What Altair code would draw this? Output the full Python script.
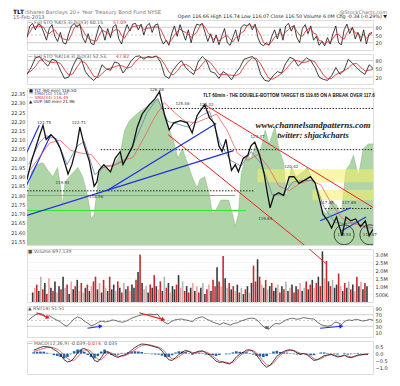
import altair as alt
import pandas as pd

FONT = "DejaVu Sans"
W = 346
H_STO, H_MAIN, H_VOL, H_RSI, H_MACD = 30, 157, 53, 31, 33
LEFT_EXT, RIGHT_EXT = 18, 16

# ---------------- axis ticks ----------------
tick_days = [0, 5, 10, 15, 20, 26, 28, 33, 38, 42, 47, 52, 57, 62, 67, 70, 75, 80, 84, 88, 94]
tick_labels = ["24", "Oct", "8", "15", "22", "Nov", "5", "12", "19", "26", "Dec", "10",
               "17", "24", "2013", "7", "14", "22", "28", "Feb", "11"]
bold_days = [5, 26, 47, 67, 88]
price_ticks = [116.0 + 0.5 * i for i in range(21)]
uup_ticks = [21.55 + 0.05 * i for i in range(17)]
sto_levels = [20, 80]
sto_mid = [50]
rsi_levels = [30, 70]
rsi_mid = [50]
rsi_ticks = [10, 30, 50, 70, 90]
vol_ticks = [0.5, 1.0, 1.5, 2.0, 2.5, 3.0]
macd_ticks = [-1.0, -0.5, 0.0, 0.5]

# ---------------- main panel: TLT price (60 min) ----------------
price_day = [-0.5, 0.8, 3.0, 4.1, 5.0, 6.4, 7.7, 9.1, 10.5, 11.3, 12.4, 13.8, 14.7, 16.0, 17.4,
             18.8, 19.6, 20.2, 21.6, 23.5, 24.9, 26.3, 27.1, 28.5, 29.9, 31.2, 32.6, 34.6, 36.2,
             37.6, 39.0, 40.4, 41.7, 43.7, 45.6, 47.0, 48.4, 49.2, 50.6, 52.0, 53.4, 54.7, 55.6,
             56.7, 57.5, 58.3, 59.4, 60.3, 61.7, 63.0, 63.9, 65.0, 66.4, 67.7, 68.6, 69.4, 70.5,
             71.9, 73.3, 74.9, 76.3, 77.7, 79.6, 81.0, 82.4, 83.8, 84.6, 86.0, 87.1, 88.5, 90.1,
             91.2, 92.6, 94.0, 95.4, 96.8, 97.9, 99.0]
price_val = [119.96, 121.26, 122.95, 123.73, 122.75, 123.08, 122.75, 122.10, 121.0, 120.35,
             121.0, 122.3, 123.6, 122.3, 121.26, 119.5, 119.8, 120.6, 121.0, 120.5, 121.45,
             121.9, 121.0, 121.65, 122.3, 123.6, 124.5, 125.15, 125.55, 126.06, 124.5, 123.4,
             123.9, 124.05, 123.9, 123.2, 124.4, 124.7, 125.15, 124.25, 123.86, 122.3, 121.9,
             122.75, 121.65, 120.6, 121.0, 120.5, 121.45, 121.65, 122.3, 122.56, 121.65, 120.35,
             119.05, 118.0, 118.86, 119.05, 118.86, 120.16, 120.16, 119.7, 119.96, 120.16, 119.7,
             118.4, 117.56, 117.1, 116.6, 117.36, 116.06, 117.36, 117.1, 117.23, 116.7, 117.1,
             116.06, 116.5]

ema_day = [0, 3, 5, 8, 11, 14, 16, 19, 22, 25, 28, 31, 34, 37, 40, 43, 46, 49, 52, 55, 58, 61,
           64, 67, 70, 73, 76, 79, 82, 85, 88, 91, 94, 97, 99]
ema_val = [121.0, 122.5, 123.0, 122.8, 121.0, 122.3, 122.6, 120.3, 120.9, 121.0, 121.3, 122.9,
           124.6, 125.6, 124.0, 123.8, 123.6, 124.3, 124.7, 122.5, 121.3, 120.9, 121.9, 121.0,
           118.9, 118.9, 119.8, 119.9, 119.9, 118.0, 117.0, 116.9, 117.0, 116.6, 116.6]

sma_day = [0, 3, 6, 9, 12, 15, 18, 21, 24, 27, 30, 33, 36, 39, 42, 45, 48, 51, 54, 57, 60, 63,
           66, 69, 72, 75, 78, 81, 84, 87, 90, 93, 96, 99]
sma_val = [120.5, 121.5, 122.5, 122.7, 122.0, 121.8, 121.7, 120.8, 120.9, 121.3, 121.5, 122.8,
           124.2, 125.3, 124.6, 124.0, 123.9, 124.2, 124.5, 123.4, 121.8, 121.3, 121.7, 120.8,
           119.5, 119.2, 119.7, 119.9, 119.6, 118.3, 117.3, 116.9, 116.8, 116.6]

# UUP (left axis, green area)
uup_day = [-0.5, 0.8, 2.2, 4.1, 5.5, 6.9, 8.3, 9.1, 9.7, 10.5, 12.4, 14.1, 15.5, 16.9, 18.0,
           18.8, 19.6, 20.7, 22.1, 23.5, 24.9, 26.3, 27.6, 29.0, 30.4, 32.1, 34.0, 35.4, 37.3,
           39.0, 40.4, 41.5, 42.9, 44.2, 45.6, 47.0, 48.4, 49.2, 50.6, 52.0, 52.8, 53.9, 55.3,
           57.5, 58.6, 59.4, 60.3, 61.1, 62.5, 63.9, 65.2, 66.6, 68.0, 69.1, 70.8, 71.9, 73.3,
           74.1, 75.5, 76.9, 78.8, 80.2, 81.6, 82.9, 84.3, 85.7, 87.1, 88.5, 89.9, 91.2, 92.3,
           93.4, 94.8, 96.2, 97.6, 99.0]
uup_val = [21.773, 21.925, 21.965, 21.975, 21.935, 21.90, 21.95, 21.849, 21.747, 21.874, 21.915,
           21.95, 21.90, 21.798, 21.672, 21.697, 21.823, 21.95, 21.95, 21.925, 21.975, 22.026,
           22.153, 22.203, 22.228, 22.254, 22.279, 22.304, 22.32, 22.228, 22.153, 22.102, 22.0,
           22.051, 21.975, 21.90, 21.839, 21.884, 21.90, 21.798, 21.697, 21.722, 21.773, 21.773,
           21.697, 21.631, 21.697, 21.915, 22.016, 22.0, 22.066, 22.036, 22.153, 22.077, 22.168,
           22.051, 21.975, 21.783, 21.95, 21.90, 21.925, 21.95, 21.874, 21.823, 21.722, 21.697,
           21.773, 21.747, 21.697, 21.935, 21.965, 22.016, 21.90, 22.051, 22.077, 22.077]

# yellow target zones
band_start = [65.8, 81.6]
band_end = [99.0, 99.0]
band_lo = [119.77, 118.53]
band_hi = [120.68, 119.25]

# horizontal levels
dot_price = [124.9, 122.04, 119.18, 117.95]
dot_start = [38.2, 20.7, -0.5, 85.2]
dot_end = [99.0, 99.0, 65.0, 99.0]
green_price = [118.86, 117.82]
green_start = [-0.5, -0.5]
green_end = [59.4, 62.5]

# trend lines (channel / support)
seg_d1 = [50.6, 40.1, -6.08, -5.53, -5.53, 22.4, 83.8, 89.9]
seg_p1 = [125.16, 123.08, 118.99, 117.1, 117.1, 119.18, 117.1, 116.39]
seg_d2 = [99.0, 86.5, 3.04, 6.36, 58.9, 53.9, 92.6, 97.0]
seg_p2 = [118.03, 113.99, 123.73, 123.08, 121.97, 123.86, 118.01, 117.36]
seg_kind = ["red", "red", "blue", "blue", "blue", "blue", "blue", "blue"]

# circled double bottom
circle_day = [90.7, 98.1]
circle_price = [116.13, 116.13]

# price labels
ann_text = ["126.38", "125.46", "125.32", "122.71", "121.75", "119.91", "118.56", "123.47",
            "120.42", "117.85", "117.89", "119.64", "115.54", "115.87"]
ann_day = [36.8, 44.2, 51.1, 14.4, 4.4, 9.7, 19.4, 65.8, 75.5, 85.7, 92.1, 68.0, 90.7, 98.1]
ann_price = [126.19, 125.22, 125.16, 123.86, 123.92, 119.7, 118.73, 122.95, 120.81, 118.34,
             118.34, 117.23, 116.13, 116.13]

# ---------------- stochastics ----------------
sto1_k = [40, 85, 95, 70, 92, 88, 60, 30, 75, 90, 45, 25, 60, 20, 15, 55, 85, 95, 80, 92,
          40, 20, 55, 18, 12, 50, 88, 70, 30, 75, 40, 82, 90, 35, 15, 60, 90, 65, 92, 95,
          70, 92, 50, 85, 95, 60, 88, 93, 40, 15, 30, 10, 55, 85, 45, 90, 60, 30, 70, 20,
          65, 92, 88, 95, 60, 25, 55, 20, 50, 12, 45, 75, 20, 10, 40, 70, 25, 80, 90, 85,
          95, 70, 92, 40, 15, 8, 20, 10, 45, 70, 35, 75, 30, 85, 95, 65, 88, 40, 20, 75,
          90, 55, 85, 30, 45, 10, 25, 8, 40, 15, 55, 85, 20, 12, 70, 92, 55, 80, 35, 60,
          25, 70, 15, 55, 60]
sto1_d = [45, 60, 80, 83, 85, 83, 80, 59, 55, 65, 70, 53, 43, 35, 32, 30, 52, 78, 87, 89,
          71, 51, 38, 31, 28, 27, 50, 69, 63, 58, 48, 66, 71, 69, 47, 37, 55, 72, 82, 84,
          86, 86, 71, 76, 77, 80, 81, 80, 74, 49, 28, 18, 32, 50, 62, 73, 65, 60, 53, 40,
          52, 59, 82, 92, 81, 60, 47, 33, 42, 27, 36, 44, 47, 35, 23, 40, 45, 58, 65, 85,
          90, 83, 86, 67, 49, 21, 14, 13, 25, 42, 50, 60, 47, 63, 70, 82, 83, 64, 49, 45,
          62, 73, 77, 57, 53, 28, 27, 14, 24, 21, 37, 52, 53, 39, 34, 58, 72, 76, 57, 58,
          40, 52, 37, 47, 57]
sto2_k = [30, 55, 90, 95, 75, 60, 85, 80, 45, 15, 20, 60, 90, 85, 40, 20, 8, 25, 65, 50,
          45, 75, 70, 35, 55, 80, 95, 97, 85, 95, 92, 97, 75, 25, 15, 45, 65, 80, 55, 40,
          30, 75, 95, 80, 40, 35, 15, 40, 30, 10, 35, 55, 85, 90, 95, 80, 30, 8, 5, 25,
          40, 35, 70, 92, 85, 60, 75, 90, 80, 55, 20, 12, 8, 25, 55, 30, 45, 85, 70, 55,
          40, 30, 65, 50]
sto2_d = [35, 42, 58, 80, 87, 77, 73, 75, 70, 47, 27, 32, 57, 78, 72, 48, 23, 18, 33, 47,
          53, 57, 63, 60, 53, 57, 77, 91, 92, 92, 91, 95, 88, 66, 38, 28, 42, 63, 67, 58,
          42, 48, 67, 83, 72, 52, 30, 30, 28, 27, 25, 33, 58, 77, 90, 88, 68, 39, 14, 13,
          23, 33, 48, 66, 82, 79, 73, 75, 82, 75, 52, 29, 13, 15, 29, 37, 43, 53, 67, 70,
          55, 42, 45, 48]

# ---------------- volume (millions) ----------------
volume = [0.6, 0.9, 1.1, 0.7, 1.6, 0.8, 1.2, 0.5, 1.5, 0.9,
          0.7, 1.3, 0.6, 1.0, 0.8, 1.6, 0.9, 1.1, 0.5, 1.3,
          0.8, 1.0, 1.4, 0.7, 1.2, 0.6, 0.9, 1.1, 0.7, 1.0,
          1.3, 1.6, 0.8, 1.2, 0.6, 1.4, 0.9, 0.7, 1.6, 0.8,
          1.1, 0.7, 1.3, 0.9, 0.6, 1.2, 0.8, 1.0, 0.7, 1.1,
          0.9, 1.4, 1.9, 3.0, 1.2, 0.8, 1.0, 0.6, 1.1, 0.9,
          1.7, 1.0, 0.8, 1.3, 0.7, 1.6, 0.9, 1.2, 0.6, 1.0,
          0.8, 1.1, 1.7, 0.9, 1.3, 0.7, 1.0, 0.6, 0.9, 1.2,
          0.7, 1.0, 0.6, 0.9, 1.2, 0.5, 0.8, 1.1, 0.7, 1.4,
          1.0, 2.2, 1.3, 1.0, 2.9, 1.5, 0.9, 1.2, 0.8, 1.0,
          0.7, 1.1, 0.6, 0.9, 0.5, 0.8, 1.0, 0.6, 1.2, 2.3,
          1.3, 2.7, 1.6, 1.1, 0.9, 1.4, 0.8, 1.0, 1.2, 0.7,
          0.9, 1.1, 0.6, 1.0, 0.8, 1.3, 0.7, 0.9, 1.1, 0.6,
          1.0, 0.8, 1.2, 0.7, 0.9, 1.3, 0.8, 1.1, 1.4, 0.9,
          1.2, 1.6, 1.0, 3.2, 1.5, 2.6, 1.3, 1.0, 1.4, 0.9,
          1.1, 1.8, 1.0, 0.7, 1.2, 0.9, 1.3, 0.8, 1.1, 0.7,
          1.6, 1.0, 1.3, 0.8, 1.2, 1.0]
vol_kind = ("kprkgrkrpk" "rkpkrkgrkp" "krkprgkrkp" "rrkpkrgkrk" "kprkrgkrpk" "krkrkpgkrk"
            "rkprkgrkpk" "krkpgrkrkp" "kprkgkrpkr" "rkrprkgrkr" "pkrgkrkpkr" "rkrpkrgkrk"
            "kprkrgkpkr" "krpkgrkrkp" "rkrkprkrgk" "krpkrkgrkp" "rkpkrk")
vol_seg_d = [81.6, 86.5]
vol_seg_v = [3.35, 2.44]

# ---------------- RSI(14) ----------------
rsi = [52, 62, 70, 74, 72, 62, 66, 58, 52, 46, 36, 30, 42, 55, 62, 58, 48, 40, 32, 36,
       44, 48, 45, 47, 52, 50, 46, 44, 48, 54, 60, 64, 68, 70, 71, 72, 70, 72, 56, 44,
       38, 46, 52, 54, 55, 52, 50, 45, 56, 60, 63, 56, 50, 44, 40, 36, 42, 38, 34, 40,
       42, 48, 52, 56, 58, 57, 48, 34, 24, 20, 32, 40, 38, 44, 52, 56, 58, 54, 56, 60,
       58, 56, 55, 44, 36, 32, 30, 33, 44, 42, 36, 48, 52, 50, 54, 52, 48, 50, 54, 51]
arrow_d1 = [2.2, 16.9, 31.8, 83.8]
arrow_v1 = [77, 23, 77, 23]
arrow_d2 = [5.5, 20.7, 38.7, 89.9]
arrow_v2 = [60, 30, 53, 30]
arrow_kind = ["red", "blue", "red", "blue"]

# ---------------- MACD(12,26,9) ----------------
macd = [0.25, 0.35, 0.45, 0.52, 0.50, 0.45, 0.30, 0.15, -0.10, -0.45, -0.60, -0.55, -0.30, 0.05,
        0.30, 0.38, 0.20, -0.10, -0.50, -0.60, -0.30, 0.10, 0.15, -0.05, -0.20, -0.28, -0.15,
        -0.10, 0.05, 0.25, 0.45, 0.60, 0.70, 0.68, 0.62, 0.55, 0.48, 0.40, 0.20, -0.15, -0.45,
        -0.50, -0.30, -0.05, 0.10, 0.25, 0.15, 0.00, 0.10, 0.18, 0.20, 0.05, -0.10, -0.30, -0.55,
        -0.65, -0.60, -0.70, -0.75, -0.55, -0.25, -0.05, 0.10, 0.25, 0.28, 0.15, -0.10, -0.45,
        -0.80, -1.00, -0.85, -0.55, -0.20, 0.00, 0.15, 0.25, 0.28, 0.20, 0.05, -0.05, 0.00, -0.10,
        -0.30, -0.50, -0.45, -0.30, -0.15, -0.10, -0.05, -0.15, -0.25, -0.20, -0.10, -0.25, -0.30,
        -0.20, -0.10, -0.08, -0.05, -0.04]
signal = [0.15, 0.22, 0.30, 0.38, 0.44, 0.47, 0.42, 0.32, 0.15, -0.10, -0.35, -0.50, -0.48, -0.25,
          0.02, 0.25, 0.30, 0.15, -0.15, -0.42, -0.45, -0.20, 0.05, 0.05, -0.08, -0.20, -0.20,
          -0.15, -0.05, 0.10, 0.28, 0.45, 0.58, 0.64, 0.65, 0.60, 0.54, 0.47, 0.35, 0.10, -0.20,
          -0.38, -0.38, -0.22, -0.05, 0.12, 0.18, 0.08, 0.06, 0.12, 0.16, 0.12, 0.00, -0.18, -0.38,
          -0.55, -0.60, -0.64, -0.70, -0.64, -0.42, -0.18, 0.00, 0.15, 0.24, 0.22, 0.05, -0.25,
          -0.55, -0.82, -0.88, -0.70, -0.40, -0.12, 0.06, 0.18, 0.25, 0.24, 0.12, 0.02, 0.00, -0.05,
          -0.18, -0.38, -0.44, -0.38, -0.24, -0.14, -0.08, -0.10, -0.18, -0.20, -0.15, -0.18, -0.25,
          -0.23, -0.15, -0.10, -0.07, -0.07]
hist = [0.10, 0.13, 0.15, 0.14, 0.06, -0.02, -0.12, -0.17, -0.25, -0.35, -0.25, -0.05, 0.18, 0.30,
        0.28, 0.13, -0.10, -0.25, -0.35, -0.18, 0.15, 0.30, 0.10, -0.10, -0.12, -0.08, 0.05, 0.05,
        0.10, 0.15, 0.17, 0.15, 0.12, 0.04, -0.03, -0.05, -0.06, -0.07, -0.15, -0.25, -0.25, -0.12,
        0.08, 0.17, 0.15, 0.13, -0.03, -0.08, 0.04, 0.06, 0.04, -0.07, -0.10, -0.12, -0.17, -0.10,
        0.00, -0.06, -0.05, 0.09, 0.17, 0.13, 0.10, 0.10, 0.04, -0.07, -0.15, -0.20, -0.25, -0.18,
        0.03, 0.15, 0.20, 0.12, 0.09, 0.07, 0.03, -0.04, -0.07, -0.07, 0.00, -0.05, -0.12, -0.12,
        -0.01, 0.08, 0.09, 0.04, 0.03, -0.05, -0.07, 0.00, 0.05, -0.07, -0.05, 0.03, 0.05, 0.02,
        0.02, 0.03]

# ======================================================================
LABEL_EXPR = ("[" + ",".join("'%s'" % s for s in tick_labels) + "][indexof(["
              + ",".join(str(d) for d in tick_days) + "], datum.value)]")
BOLD_TEST = "indexof([" + ",".join(str(d) for d in bold_days) + "], datum.value) >= 0"
XS = alt.Scale(domain=[-0.5, 99], nice=False, zero=False)
PS = alt.Scale(domain=[115.42, 126.32], nice=False, zero=False)
one = pd.DataFrame({"z": [0]})


def xax(field, show=None):
    if show is None:
        return alt.X(f"{field}:Q", scale=XS, axis=None)
    return alt.X(f"{field}:Q", scale=XS, axis=alt.Axis(
        values=tick_days, labelExpr=LABEL_EXPR, labels=show, grid=True, gridColor="#dedede",
        gridWidth=0.6, ticks=False, domain=False, title=None, labelFontSize=5, labelFont=FONT,
        labelColor="#333", labelPadding=1.5,
        labelFontWeight={"condition": {"test": BOLD_TEST, "value": "bold"}, "value": "normal"}))


def yax(values, fmt=None, orient="right", grid=False, expr=None):
    ext = RIGHT_EXT if orient == "right" else LEFT_EXT
    kw = dict(orient=orient, values=values, title=None, ticks=False, domain=False, grid=grid,
              gridColor="#ececec", gridWidth=0.6, labelFontSize=5, labelFont=FONT,
              labelColor="#333", labelPadding=2, minExtent=ext, maxExtent=ext)
    if fmt:
        kw["format"] = fmt
    if expr:
        kw["labelExpr"] = expr
    return alt.Axis(**kw)


# an unlabeled left axis that gives every panel the same left extent as the UUP axis
LEFT_PAD = alt.Axis(orient="left", labels=False, ticks=False, domain=False, grid=False,
                    title=None, minExtent=LEFT_EXT, maxExtent=LEFT_EXT)


def txt(s, x, y, size=5.0, color="#333", weight="normal", align="left", font=FONT, style="normal"):
    return alt.Chart(one).mark_text(text=s, fontSize=size, color=color, fontWeight=weight,
                                    align=align, baseline="middle", font=font,
                                    fontStyle=style).encode(x=alt.value(x), y=alt.value(y))


def series(vals, step):
    return pd.DataFrame({"d": [-0.5 + i * step for i in range(len(vals))], "v": vals})


# ---------------- stochastic panels ----------------
def sto_panel(k, d, step, dom, leg_a, leg_b, leg_b_x, extra=None):
    ys = alt.Scale(domain=dom, nice=False, zero=False)
    lv = alt.Chart(pd.DataFrame({"v": sto_levels})).mark_rule(color="#aaaaaa", strokeWidth=0.6).encode(
        y=alt.Y("v:Q", scale=ys, axis=yax([20, 50, 80])))
    mid = alt.Chart(pd.DataFrame({"v": sto_mid})).mark_rule(color="#aaaaaa", strokeWidth=0.6,
                                                            strokeDash=[2, 2]).encode(
        y=alt.Y("v:Q", scale=ys, axis=None))
    kl = alt.Chart(series(k, step)).mark_line(color="#111111", strokeWidth=0.8, clip=True).encode(
        x=xax("d", False), y=alt.Y("v:Q", scale=ys, axis=LEFT_PAD))
    dl = alt.Chart(series(d, step)).mark_line(color="#d42020", strokeWidth=0.8, clip=True).encode(
        x=xax("d"), y=alt.Y("v:Q", scale=ys, axis=None))
    layers = [lv, mid, kl, dl, txt(leg_a, 1, 2.5, 4.6, "#555"), txt(leg_b, leg_b_x, 2.5, 4.6, "#e03030")]
    if extra:
        layers += extra
    return alt.layer(*layers).resolve_scale(y="independent").properties(width=W, height=H_STO)


header = [
    txt("TLT", -14, -8.5, 6, "#111", "bold"),
    txt("iShares Barclays 20+ Year Treasury Bond Fund NYSE", -2, -8.5, 5.2, "#777"),
    txt("15-Feb-2013", -14, -3, 5, "#666"),
    txt("@StockCharts.com", 360, -8.5, 5, "#777", align="right"),
    txt("Open 116.66  High 116.74  Low 116.07  Close 116.50  Volume 6.0M  Chg -0.34 (-0.29%) \u25bc",
        360, -3, 4.8, "#222", align="right"),
]
sto1 = sto_panel(sto1_k, sto1_d, 0.8, [-8, 108], "\u2014 Full STO %K(5,3) %D(3) 60.15,", "57.09", 86,
                 extra=header)
sto2 = sto_panel(sto2_k, sto2_d, 1.2, [-5, 104], "\u2014 Full STO %K(14,3) %D(3) 52.53,", "47.82", 89)

# ---------------- main panel ----------------
uup_layer = alt.Chart(pd.DataFrame({"d": uup_day, "v": uup_val})).mark_area(
    color="#a6cf9e", opacity=0.9, clip=True, line={"color": "#86b37e", "strokeWidth": 0.5}).encode(
    x=xax("d", True),
    y=alt.Y("v:Q", scale=alt.Scale(domain=[21.53, 22.38], nice=False, zero=False),
            axis=yax(uup_ticks, ".2f", orient="left")))

bands = alt.Chart(pd.DataFrame({"d1": band_start, "d2": band_end, "p1": band_lo, "p2": band_hi})).mark_rect(
    color="#f5f06a", opacity=0.55, clip=True).encode(
    x=xax("d1"), x2="d2", y=alt.Y("p1:Q", scale=PS, axis=yax(price_ticks, ".1f", grid=True)), y2="p2")

dots = alt.Chart(pd.DataFrame({"d1": dot_start, "d2": dot_end, "p": dot_price})).mark_rule(
    color="#111", strokeWidth=0.9, strokeDash=[1.5, 1.5], clip=True).encode(
    x=xax("d1"), x2="d2", y=alt.Y("p:Q", scale=PS, axis=None))
greens = alt.Chart(pd.DataFrame({"d1": green_start, "d2": green_end, "p": green_price})).mark_rule(
    color="#2ee82e", strokeWidth=1.1, clip=True).encode(
    x=xax("d1"), x2="d2", y=alt.Y("p:Q", scale=PS, axis=None))

seg_df = pd.DataFrame({"d1": seg_d1, "p1": seg_p1, "d2": seg_d2, "p2": seg_p2, "k": seg_kind})


def seg_layer(kind, color, w):
    return alt.Chart(seg_df).transform_filter(f"datum.k == '{kind}'").mark_rule(
        color=color, strokeWidth=w, clip=True).encode(
        x=xax("d1"), x2="d2", y=alt.Y("p1:Q", scale=PS, axis=None), y2="p2")


sma_l = alt.Chart(pd.DataFrame({"d": sma_day, "v": sma_val})).mark_line(
    color="#f06060", strokeWidth=0.8, clip=True).encode(x=xax("d"), y=alt.Y("v:Q", scale=PS, axis=None))
ema_l = alt.Chart(pd.DataFrame({"d": ema_day, "v": ema_val})).mark_line(
    color="#6a7fb8", strokeWidth=0.8, clip=True).encode(x=xax("d"), y=alt.Y("v:Q", scale=PS, axis=None))
price_l = alt.Chart(pd.DataFrame({"d": price_day, "v": price_val})).mark_line(
    color="#111111", strokeWidth=1.3, clip=True).encode(x=xax("d"), y=alt.Y("v:Q", scale=PS, axis=None))

circles = alt.Chart(pd.DataFrame({"d": circle_day, "v": circle_price})).mark_point(
    shape="circle", filled=False, size=400, color="#111", strokeWidth=1, clip=True).encode(
    x=xax("d"), y=alt.Y("v:Q", scale=PS, axis=None))
ann = alt.Chart(pd.DataFrame({"d": ann_day, "v": ann_price, "t": ann_text})).mark_text(
    fontSize=4, font=FONT, color="#333").encode(
    x=xax("d"), y=alt.Y("v:Q", scale=PS, axis=None), text="t:N")

main_text = [
    txt("TLT 60min - THE DOUBLE-BOTTOM TARGET IS 119.65 ON A BREAK OVER 117.6", 176, 7.5, 4.5,
        "#111", "bold", font="Liberation Sans"),
    txt("www.channelsandpatterns.com", 286, 36.5, 9, "#222", "bold", "center", "Liberation Serif", "italic"),
    txt("twitter: shjackcharts", 286, 46.5, 8.5, "#222", "bold", "center", "Liberation Serif", "italic"),
    txt("\u25a0 TLT (60 min) 116.50", 2, 2.5, 4.2, "#222"),
    txt("\u2014 EMA(10) 116.37", 2, 6.3, 4.2, "#3b4fa0"),
    txt("\u2014 SMA(34) 116.49", 2, 10.1, 4.2, "#e03030"),
    txt("\u25b2 UUP (60 min) 21.96", 2, 13.9, 4.2, "#222"),
]

price_group = alt.layer(bands, dots, greens, seg_layer("red", "#ee2222", 1.0),
                        seg_layer("blue", "#1b2fe0", 1.2), sma_l, ema_l, price_l, circles, ann,
                        *main_text)
main = alt.layer(uup_layer, price_group).resolve_scale(y="independent").properties(width=W, height=H_MAIN)

# ---------------- volume ----------------
VS = alt.Scale(domain=[0, 3.35], nice=False)
vol_df = pd.DataFrame([{"d": -0.3 + 0.6 * i, "v": v, "k": c}
                       for i, (v, c) in enumerate(zip(volume, vol_kind))])
vol_colors = {"k": "#3a3a3a", "r": "#c62a2f", "p": "#eaa4a4", "g": "#b4b4b4"}
vol_layers = []
for i, (code, col) in enumerate(vol_colors.items()):
    vol_layers.append(alt.Chart(vol_df).transform_filter(f"datum.k == '{code}'").mark_bar(
        color=col, size=1.6, clip=True).encode(
        x=xax("d", False) if i == 0 else xax("d"),
        y=alt.Y("v:Q", scale=VS, axis=yax(vol_ticks, grid=True,
                                          expr="datum.value < 0.9 ? '500K' : format(datum.value, '.1f') + 'M'")
                if i == 0 else None)))
vol_seg = alt.Chart(pd.DataFrame({"d": vol_seg_d, "v": vol_seg_v})).mark_line(
    color="#ee2222", strokeWidth=1.0, clip=True).encode(x=xax("d"), y=alt.Y("v:Q", scale=VS, axis=LEFT_PAD))
vol = alt.layer(*vol_layers, vol_seg, txt("\u25a0 Volume 697,139", 1, 3, 4.6, "#555")).resolve_scale(
    y="independent").properties(width=W, height=H_VOL)

# ---------------- RSI ----------------
RS = alt.Scale(domain=[-7, 100], nice=False, zero=False)
rsi_df = pd.DataFrame({"d": list(range(len(rsi))), "v": rsi})
rsi_lv = alt.Chart(pd.DataFrame({"v": rsi_levels})).mark_rule(color="#aaaaaa", strokeWidth=0.6).encode(
    y=alt.Y("v:Q", scale=RS, axis=yax(rsi_ticks)))
rsi_mid_l = alt.Chart(pd.DataFrame({"v": rsi_mid})).mark_rule(color="#aaaaaa", strokeWidth=0.6,
                                                               strokeDash=[2, 2]).encode(
    y=alt.Y("v:Q", scale=RS, axis=None))
rsi_fill = alt.Chart(rsi_df).transform_filter("datum.v < 30").mark_area(color="#666", clip=True).encode(
    x=xax("d"), y=alt.Y("v:Q", scale=RS, axis=None), y2=alt.Y2(datum=30))
rsi_line = alt.Chart(rsi_df).mark_line(color="#333", strokeWidth=0.7, clip=True).encode(
    x=xax("d", False), y=alt.Y("v:Q", scale=RS, axis=LEFT_PAD))
arr_df = pd.DataFrame({"d1": arrow_d1, "v1": arrow_v1, "d2": arrow_d2, "v2": arrow_v2, "k": arrow_kind})


def arrow(kind, color, ang):
    body = alt.Chart(arr_df).transform_filter(f"datum.k == '{kind}'").mark_rule(
        color=color, strokeWidth=1.1).encode(x=xax("d1"), x2="d2",
                                             y=alt.Y("v1:Q", scale=RS, axis=None), y2="v2")
    head = alt.Chart(arr_df).transform_filter(f"datum.k == '{kind}'").mark_point(
        shape="triangle-right", filled=True, size=22, color=color, angle=ang, opacity=1).encode(
        x=xax("d2"), y=alt.Y("v2:Q", scale=RS, axis=None))
    return [body, head]


rsi_p = alt.layer(rsi_lv, rsi_mid_l, rsi_fill, rsi_line, *arrow("red", "#e82020", 20),
                  *arrow("blue", "#1b2fe0", 354),
                  txt("\u25b2 RSI(14) 51.51", 1, 3, 4.6, "#555")).resolve_scale(
    y="independent").properties(width=W, height=H_RSI)

# ---------------- MACD ----------------
MS = alt.Scale(domain=[-1.49, 0.92], nice=False, zero=False)
mdf = pd.DataFrame({"d": list(range(len(macd))), "m": macd, "s": signal, "h": hist})
m_hist = alt.Chart(mdf).mark_bar(color="#1f5ea8", size=2.6, clip=True).encode(
    x=xax("d", True), y=alt.Y("h:Q", scale=MS, axis=yax(macd_ticks, ".1f")), y2=alt.Y2(datum=0))
m_sig = alt.Chart(mdf).mark_line(color="#e04040", strokeWidth=0.8, clip=True).encode(
    x=xax("d"), y=alt.Y("s:Q", scale=MS, axis=None))
m_line = alt.Chart(mdf).mark_line(color="#111", strokeWidth=0.8, clip=True).encode(
    x=xax("d"), y=alt.Y("m:Q", scale=MS, axis=LEFT_PAD))
macd_p = alt.layer(m_hist, m_sig, m_line,
                   txt("\u2014 MACD(12,26,9) -0.039,", 1, 3, 4.6, "#555"),
                   txt("-0.074,", 59, 3, 4.6, "#e03030"),
                   txt("0.035", 77, 3, 4.6, "#1f5ea8")).resolve_scale(
    y="independent").properties(width=W, height=H_MACD)

chart = alt.vconcat(sto1, sto2, main, vol, rsi_p, macd_p, spacing=2).properties(
    padding={"left": 0, "top": 0, "right": 0, "bottom": 0}
).configure_view(stroke="#a0a0a0", strokeWidth=0.6).configure(background="white")

chart.save("out.html", embed_options={"renderer": "svg", "actions": False})
